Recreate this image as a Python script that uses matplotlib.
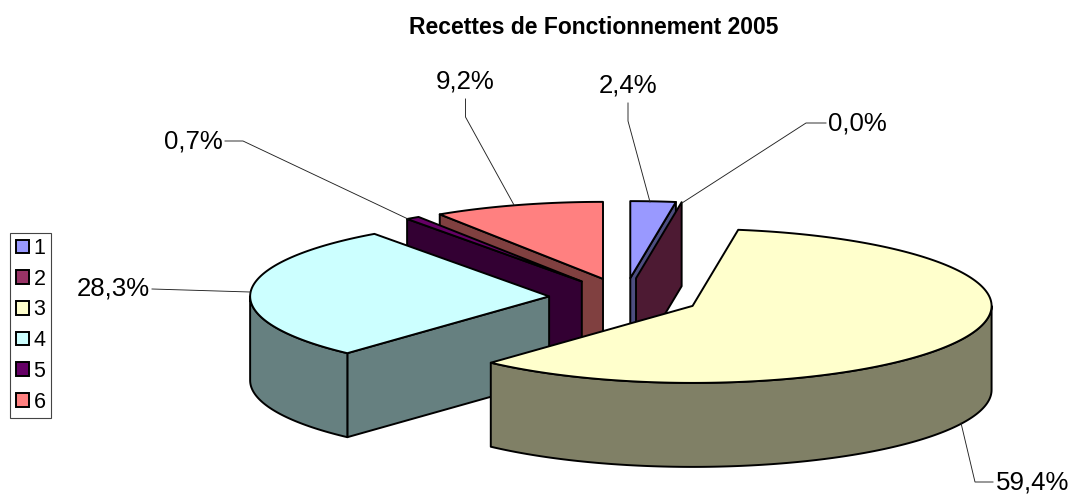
import numpy as np
import matplotlib
matplotlib.use("Agg")
import matplotlib.pyplot as plt
from matplotlib.patches import Polygon, Patch

plt.rcParams['font.family'] = ['Liberation Sans', 'DejaVu Sans']

title = "Recettes de Fonctionnement 2005"
categories = ["1", "2", "3", "4", "5", "6"]
values = [2.44, 0.0, 59.4, 28.3, 0.74, 9.2]
top_colors = ["#9999FF", "#993366", "#FFFFCC", "#CCFFFF", "#660066", "#FF8080"]
side_colors = ["#4D4D80", "#4D1A33", "#808066", "#668080", "#330033", "#804040"]

# label placement (centre of text) and leader elbows, in figure pixels
label_pos = [(628, 85), (857, 123), (1033, 482), (113, 288), (193, 141), (465, 82)]
leader_elbow = [[(628, 103), (628, 121)], [(826, 123), (806, 123)], [(993, 482), (975, 482)],
                [(152, 289)], [(225, 141), (243, 141)], [(465.5, 99), (465.5, 117)]]
leader_end = [(650, 202), (682, 203), (961, 423), (250, 292), (408, 219), (514, 205)]

# pie projection
CX, CY = 624.5, 297.5
A, B = 299.0, 77.0
DEPTH = 84.0
EXPLODE = 75.5
LW = 1.4

fig = plt.figure(figsize=(10.72, 4.94), dpi=100)
ax = fig.add_axes([0, 0, 1, 1])
ax.set_xlim(0, 1072)
ax.set_ylim(494, 0)
ax.axis('off')


def rim(tip, theta):
    t = np.radians(theta)
    return np.array([tip[0] + A * np.sin(t), tip[1] - B * np.cos(t)])


def arc(tip, a0, a1):
    n = max(2, int(abs(a1 - a0)) + 2)
    return np.array([rim(tip, a) for a in np.linspace(a0, a1, n)])


total = sum(values)
edges = np.concatenate([[0], np.cumsum(values)]) / total * 360.0
slices = []
for i, (s, e) in enumerate(zip(edges[:-1], edges[1:])):
    mid = np.radians((s + e) / 2)
    tip = np.array([CX + EXPLODE * np.sin(mid), CY - EXPLODE * B / A * np.cos(mid)])
    slices.append((i, s, e, mid, tip))

# painter's order: rear slices first
order = sorted(slices, key=lambda r: -np.cos(r[3]))
down = np.array([0, DEPTH])
z = 2
for i, s, e, mid, tip in order:
    side = side_colors[i]
    kw = dict(edgecolor='black', linewidth=LW, joinstyle='round', zorder=z)
    # radial cut walls
    for theta, vis in ((s, np.sin(np.radians(s)) < -1e-6), (e, np.sin(np.radians(e)) > 1e-6)):
        if vis:
            p = rim(tip, theta)
            ax.add_patch(Polygon([tip, p, p + down, tip + down], closed=True, facecolor=side, **kw))
    # outer wall
    a0, a1 = max(s, 90), min(e, 270)
    if a1 > a0:
        upper = arc(tip, a0, a1)
        ax.add_patch(Polygon(np.vstack([upper, (upper + down)[::-1]]), closed=True, facecolor=side, **kw))
    # top face
    if e > s:
        ax.add_patch(Polygon(np.vstack([[tip], arc(tip, s, e)]), closed=True, facecolor=top_colors[i], **kw))
    z += 1

# leaders and labels
for v, pos, elbow, end in zip(values, label_pos, leader_elbow, leader_end):
    pts = np.array(list(elbow) + [end])
    ax.plot(pts[:, 0], pts[:, 1], color='#222222', lw=0.65, zorder=30, solid_joinstyle='miter')
    ax.text(pos[0], pos[1], f"{v:.1f}%".replace('.', ','), ha='center', va='center',
            fontsize=18.6, color='black', zorder=31)

ax.text(594, 28, title, ha='center', va='center', fontsize=16.5, fontweight='bold', color='black')

handles = [Patch(facecolor=c, edgecolor='black', linewidth=1.4, label=l)
           for c, l in zip(top_colors, categories)]
leg = ax.legend(handles=handles, loc='upper left', bbox_to_anchor=(10, 232.5),
                bbox_transform=ax.transData, fontsize=15.5, frameon=True, fancybox=False,
                handlelength=0.6, handleheight=0.6, handletextpad=0.23,
                labelspacing=0.45, borderpad=0.26, borderaxespad=0)
leg.get_frame().set_edgecolor('#444444')
leg.get_frame().set_linewidth(0.8)
leg.get_frame().set_alpha(1)

fig.savefig('out.png', dpi=100, facecolor='white')
